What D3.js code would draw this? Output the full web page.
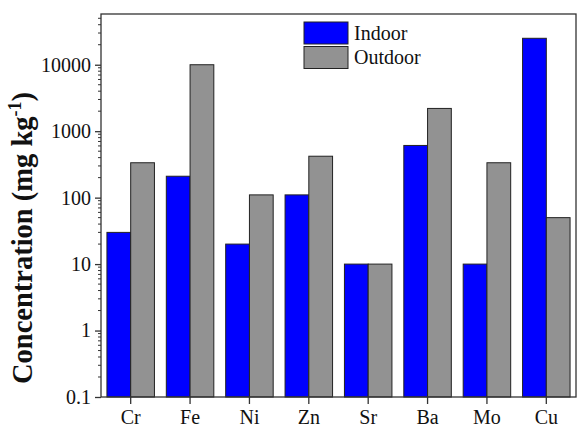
<!DOCTYPE html>
<html><head><meta charset="utf-8">
<script src="https://cdn.jsdelivr.net/npm/d3@7"></script>
<style>body{margin:0;background:#fff}svg{display:block}</style>
</head><body>
<svg id="c" width="577" height="427"></svg>
<script>
const categories = ["Cr","Fe","Ni","Zn","Sr","Ba","Mo","Cu"];
const indoor  = [30, 210, 20, 110, 10, 610, 10, 25000];
const outdoor = [335, 10000, 110, 420, 10, 2200, 335, 50];
const seriesNames = ["Indoor","Outdoor"];
const seriesColors = ["#0000ff","#929292"];
const yTickValues = [0.1, 1, 10, 100, 1000, 10000];
const yTickLabels = ["0.1","1","10","100","1000","10000"];

const svg = d3.select("#c");
const L = 101, R = 576, T = 14, B = 397;
const font = "'Liberation Serif','Times New Roman',serif";

const x = d3.scaleBand().domain(categories).range([L, R]).padding(0);
const y = d3.scaleLog().domain([0.1, 58000]).range([B, T]);
const bw = x.bandwidth() * 0.4;

// bars
const g = svg.append("g");
[indoor, outdoor].forEach((vals, s) => {
  g.selectAll(null).data(categories).enter().append("rect")
    .attr("x", c => x(c) + x.bandwidth()/2 + (s === 0 ? -bw : 0))
    .attr("y", (c,i) => y(vals[i]))
    .attr("width", bw)
    .attr("height", (c,i) => B - y(vals[i]))
    .attr("fill", seriesColors[s])
    .attr("stroke", "#222").attr("stroke-width", 1);
});

// frame
svg.append("rect").attr("x", L).attr("y", T).attr("width", R - L).attr("height", B - T)
  .attr("fill", "none").attr("stroke", "#333").attr("stroke-width", 1.3);

// y axis major
const yAxis = d3.axisLeft(y).tickValues(yTickValues)
  .tickFormat((d,i) => yTickLabels[i]).tickSize(6).tickPadding(4);
const ya = svg.append("g").attr("transform", `translate(${L},0)`).call(yAxis);
ya.select(".domain").remove();
ya.selectAll("line").attr("stroke", "#333").attr("stroke-width", 1.3);
ya.selectAll("text").attr("font-family", font).attr("font-size", 20).attr("fill", "#111");

// y minor ticks
const minor = [];
for (let k = -1; k <= 4; k++) for (let m = 2; m <= 9; m++) {
  const v = m * Math.pow(10, k);
  if (v < y.domain()[1]) minor.push(v);
}
svg.append("g").selectAll("line").data(minor).enter().append("line")
  .attr("x1", L - 3).attr("x2", L).attr("y1", d => y(d)).attr("y2", d => y(d))
  .attr("stroke", "#333").attr("stroke-width", 1);

// x axis
const xAxis = d3.axisBottom(x).tickSize(7).tickPadding(6);
const xa = svg.append("g").attr("transform", `translate(0,${B})`).call(xAxis);
xa.select(".domain").remove();
xa.selectAll("line").attr("stroke", "#333").attr("stroke-width", 1.3);
xa.selectAll("text").attr("font-family", font).attr("font-size", 20).attr("fill", "#111");

// y title
const yt = svg.append("text")
  .attr("transform", "translate(32,238) rotate(-90)")
  .attr("text-anchor", "middle")
  .attr("font-family", font).attr("font-weight", "bold").attr("font-size", 28.5).attr("fill", "#111");
yt.append("tspan").text("Concentration (mg kg");
yt.append("tspan").text("-1").attr("font-size", 18).attr("dy", -11);
yt.append("tspan").text(")").attr("dy", 11);

// legend
const lg = svg.append("g").attr("transform", "translate(304,22)");
seriesNames.forEach((n, i) => {
  lg.append("rect").attr("x", 0).attr("y", i * 24.5).attr("width", 44).attr("height", 22)
    .attr("fill", seriesColors[i]).attr("stroke", "#222").attr("stroke-width", 1);
  lg.append("text").attr("x", 50).attr("y", i * 24.5 + 17.5).text(n)
    .attr("font-family", font).attr("font-size", 20).attr("fill", "#111");
});
</script>
</body></html>
